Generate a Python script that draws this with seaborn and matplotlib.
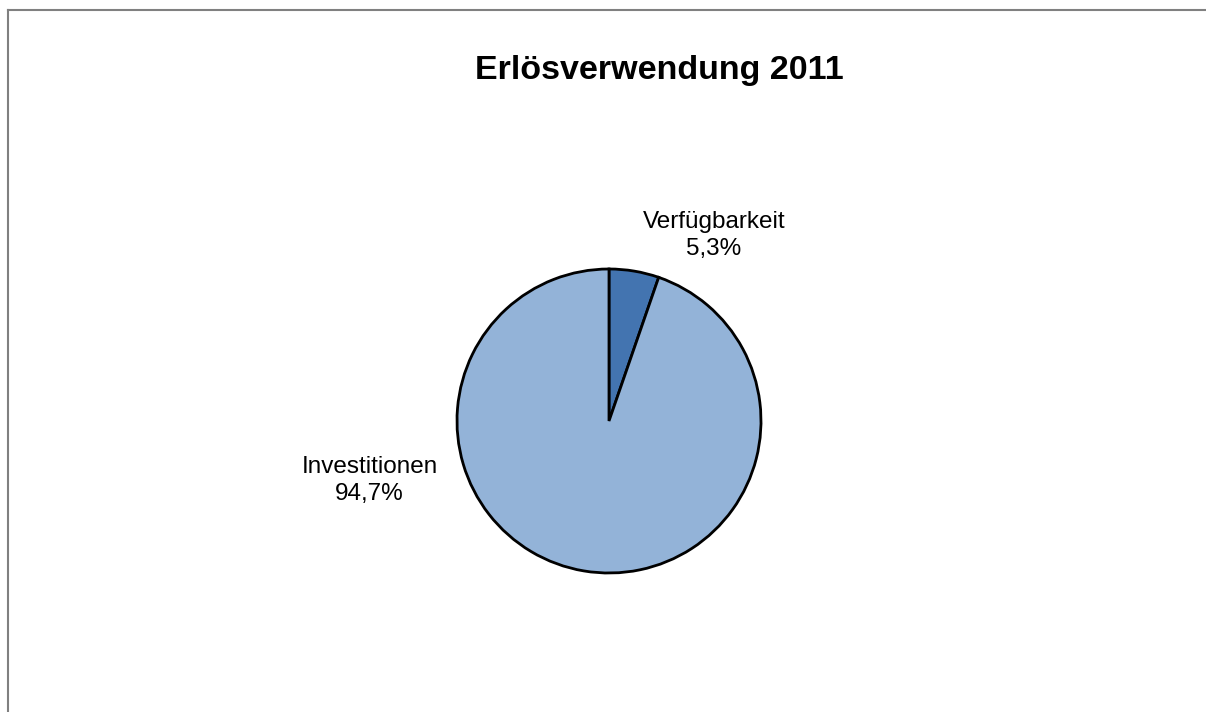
import matplotlib
matplotlib.use("Agg")
import matplotlib.pyplot as plt
import seaborn as sns

categories = ["Verfügbarkeit", "Investitionen"]
shares = [5.3, 94.7]
colors = ["#4374B0", "#93B3D8"]
title = "Erlösverwendung 2011"

sns.set_style("white")
plt.rcParams["font.family"] = ["Liberation Sans", "DejaVu Sans"]
plt.rcParams["text.color"] = "black"

fig = plt.figure(figsize=(12.06, 7.12), dpi=100)

# chart frame (grey border at left and top)
frame = fig.add_axes([8 / 1206, 0, 1 - 8 / 1206, 1 - 10 / 712])
frame.set_xticks([])
frame.set_yticks([])
for side in ["right", "bottom"]:
    frame.spines[side].set_visible(False)
for side in ["left", "top"]:
    frame.spines[side].set_color("#808080")
    frame.spines[side].set_linewidth(1.5)

# pie axes: centre (609, 421) px, radius 152 px
cx, cy, r = 609, 421, 152
pad = 1.03
w = 2 * r * pad
ax = fig.add_axes([(cx - w / 2) / 1206, (712 - cy - w / 2) / 712, w / 1206, w / 712])
ax.pie(shares, colors=colors, startangle=90, counterclock=False, radius=1,
       wedgeprops={"edgecolor": "black", "linewidth": 2})
ax.set_xlim(-pad, pad)
ax.set_ylim(-pad, pad)
ax.set_aspect("equal")
ax.axis("off")

label_pos = [(0.69, 1.22), (-1.575, -0.39)]
for name, val, (x, y) in zip(categories, shares, label_pos):
    txt = "{}\n{}%".format(name, ("%.1f" % val).replace(".", ","))
    ax.text(x, y, txt, ha="center", va="center", fontsize=17.5, linespacing=1.3,
            color="black", clip_on=False)

fig.text(659 / 1206, 1 - 71 / 712, title, ha="center", va="center",
         fontsize=24.5, fontweight="bold", color="black")

fig.savefig("out.png", dpi=100)
